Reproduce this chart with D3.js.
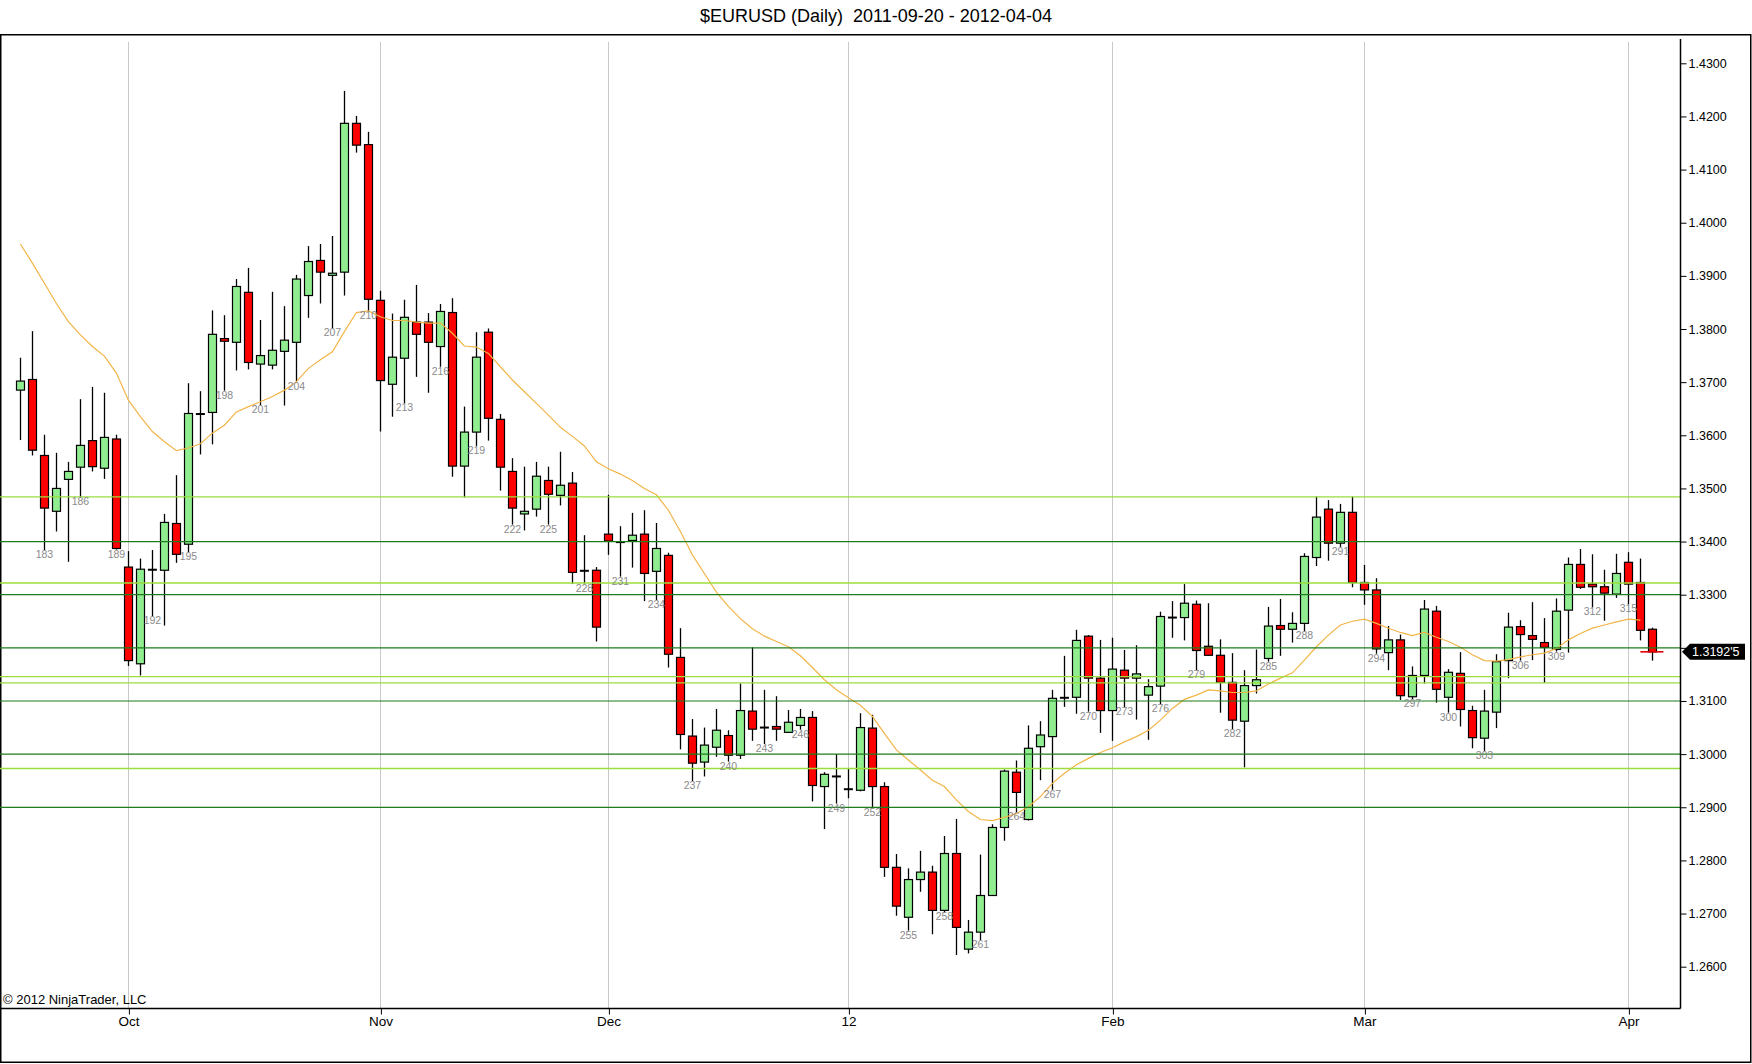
<!DOCTYPE html>
<html>
<head>
<meta charset="utf-8">
<script src="https://cdn.jsdelivr.net/npm/d3@7"></script>
<style>
body{margin:0;background:#fff;}
svg{display:block;font-family:"Liberation Sans",Arial,sans-serif;}
</style>
</head>
<body>
<svg id="chart" width="1752" height="1064"></svg>
<script>
// daily bars, numbered the way the platform numbers them
var firstBar = 181;
var opens = [1.3685,1.3705,1.3562,1.3457,1.3517,1.3540,1.3590,1.3538,1.3593,1.3352,1.3170,1.3347,1.3346,1.3434,1.3395,1.3640,1.3643,1.3782,1.3775,1.3869,
    1.3734,1.3732,1.3758,1.3775,1.3863,1.3929,1.3901,1.3907,1.4187,1.4147,1.3854,1.3696,1.3745,1.3813,1.3813,1.3767,1.3831,1.3542,1.3606,1.3794,
    1.3630,1.3532,1.3452,1.3461,1.3515,1.3487,1.3510,1.3345,1.3346,1.3414,1.3399,1.3402,1.3414,1.3344,1.3374,1.3182,1.3034,1.2985,1.3013,1.3035,
    1.2998,1.3081,1.3050,1.3052,1.3041,1.3054,1.3069,1.2939,1.2958,1.2934,1.2932,1.3049,1.2939,1.2787,1.2693,1.2764,1.2778,1.2706,1.2813,1.2633,
    1.2665,1.2734,1.2862,1.2966,1.2877,1.3014,1.3033,1.3106,1.3107,1.3222,1.3143,1.3082,1.3158,1.3143,1.3111,1.3128,1.3257,1.3257,1.3282,1.3203,
    1.3186,1.3135,1.3062,1.3129,1.3180,1.3242,1.3235,1.3246,1.3370,1.3461,1.3397,1.3455,1.3323,1.3309,1.3191,1.3215,1.3108,1.3148,1.3269,1.3107,
    1.3152,1.3082,1.3030,1.3079,1.3176,1.3240,1.3223,1.3210,1.3197,1.3271,1.3357,1.3320,1.3315,1.3301,1.3361,1.3323,1.3235];
var highs = [1.3746,1.3796,1.3601,1.3567,1.3550,1.3668,1.3691,1.3680,1.3601,1.3382,1.3368,1.3384,1.3452,1.3525,1.3698,1.3683,1.3835,1.3826,1.3894,1.3915,
    1.3817,1.3870,1.3843,1.3902,1.3956,1.3960,1.3975,1.4248,1.4201,1.4171,1.3872,1.3829,1.3855,1.3883,1.3830,1.3847,1.3858,1.3654,1.3794,1.3801,
    1.3640,1.3557,1.3541,1.3550,1.3541,1.3569,1.3531,1.3412,1.3352,1.3488,1.3429,1.3454,1.3459,1.3435,1.3379,1.3237,1.3066,1.3050,1.3085,1.3045,
    1.3133,1.3201,1.3121,1.3109,1.3083,1.3085,1.3081,1.2966,1.3000,1.2973,1.3077,1.3074,1.2947,1.2812,1.2785,1.2818,1.2790,1.2846,1.2878,1.2688,
    1.2811,1.2868,1.2971,1.2988,1.3054,1.3062,1.3121,1.3185,1.3234,1.3224,1.3215,1.3219,1.3196,1.3205,1.3141,1.3268,1.3288,1.3320,1.3289,1.3284,
    1.3216,1.3190,1.3158,1.3197,1.3277,1.3292,1.3267,1.3378,1.3485,1.3478,1.3471,1.3485,1.3356,1.3331,1.3241,1.3225,1.3165,1.3290,1.3279,1.3160,
    1.3192,1.3091,1.3121,1.3188,1.3266,1.3252,1.3286,1.3256,1.3293,1.3370,1.3386,1.3376,1.3347,1.3377,1.3380,1.3368,1.3238];
var lows = [1.3591,1.3562,1.3384,1.3419,1.3362,1.3484,1.3532,1.3518,1.3385,1.3166,1.3148,1.3259,1.3242,1.3360,1.3380,1.3564,1.3583,1.3684,1.3722,1.3724,
    1.3657,1.3724,1.3656,1.3701,1.3821,1.3848,1.3801,1.3863,1.4132,1.3833,1.3607,1.3635,1.3660,1.3710,1.3680,1.3729,1.3522,1.3483,1.3580,1.3590,
    1.3496,1.3432,1.3421,1.3447,1.3432,1.3468,1.3320,1.3321,1.3212,1.3375,1.3334,1.3351,1.3288,1.3290,1.3163,1.3009,1.2949,1.2958,1.2995,1.2986,
    1.2991,1.3025,1.3019,1.3025,1.3040,1.3046,1.2911,1.2859,1.2907,1.2917,1.2930,1.2899,1.2769,1.2696,1.2668,1.2741,1.2661,1.2702,1.2622,1.2625,
    1.2650,1.2733,1.2837,1.2891,1.2875,1.2951,1.2933,1.3089,1.3076,1.3080,1.3040,1.3025,1.3088,1.3065,1.3027,1.3094,1.3219,1.3214,1.3158,1.3185,
    1.3078,1.3047,1.2975,1.3114,1.3174,1.3185,1.3210,1.3231,1.3354,1.3364,1.3390,1.3314,1.3281,1.3189,1.3158,1.3102,1.3103,1.3133,1.3097,1.3078,
    1.3052,1.3011,1.3006,1.3049,1.3143,1.3176,1.3177,1.3134,1.3193,1.3191,1.3311,1.3276,1.3251,1.3294,1.3282,1.3214,1.3176];
var closes = [1.3702,1.3572,1.3463,1.3500,1.3532,1.3581,1.3541,1.3596,1.3387,1.3176,1.3348,1.3347,1.3436,1.3376,1.3641,1.3640,1.3790,1.3777,1.3880,1.3737,
    1.3750,1.3760,1.3779,1.3894,1.3927,1.3907,1.3905,1.4187,1.4146,1.3856,1.3703,1.3747,1.3822,1.3790,1.3775,1.3833,1.3542,1.3606,1.3747,1.3632,
    1.3540,1.3463,1.3457,1.3523,1.3489,1.3506,1.3342,1.3345,1.3239,1.3401,1.3399,1.3412,1.3340,1.3387,1.3188,1.3037,1.2983,1.3017,1.3045,1.2998,
    1.3082,1.3047,1.3050,1.3047,1.3060,1.3069,1.2941,1.2962,1.2958,1.2934,1.3050,1.2939,1.2787,1.2714,1.2764,1.2778,1.2706,1.2813,1.2674,1.2665,
    1.2734,1.2862,1.2968,1.2928,1.3011,1.3036,1.3105,1.3106,1.3214,1.3143,1.3082,1.3160,1.3143,1.3151,1.3127,1.3259,1.3257,1.3284,1.3195,1.3186,
    1.3135,1.3064,1.3129,1.3140,1.3241,1.3235,1.3246,1.3372,1.3446,1.3397,1.3455,1.3323,1.3309,1.3198,1.3215,1.3110,1.3148,1.3273,1.3122,1.3154,
    1.3084,1.3031,1.3081,1.3174,1.3239,1.3225,1.3216,1.3201,1.3269,1.3357,1.3314,1.3315,1.3303,1.3340,1.3320,1.3233,1.31925];
// moving average, bars 181..316
var movingAverage = [1.3960,1.3924,1.3886,1.3848,1.3814,1.3789,1.3767,1.3749,1.3717,1.3666,1.3635,1.3607,1.3588,1.3571,1.3576,1.3584,1.3604,1.3619,1.3644,1.3654,
    1.3663,1.3673,1.3685,1.3701,1.3726,1.3742,1.3757,1.3795,1.3831,1.3834,1.3823,1.3816,1.3816,1.3813,1.3811,1.3811,1.3792,1.3768,1.3766,1.3754,
    1.3729,1.3704,1.3682,1.3660,1.3638,1.3615,1.3598,1.3580,1.3550,1.3537,1.3527,1.3515,1.3500,1.3488,1.3459,1.3419,1.3375,1.3340,1.3305,1.3278,
    1.3255,1.3236,1.3222,1.3212,1.3202,1.3185,1.3163,1.3140,1.3121,1.3106,1.3092,1.3071,1.3039,1.3008,1.2989,1.2970,1.2951,1.2939,1.2914,1.2892,
    1.2877,1.2875,1.2881,1.2888,1.2901,1.2920,1.2945,1.2964,1.2980,1.2992,1.3003,1.3012,1.3023,1.3033,1.3045,1.3064,1.3086,1.3103,1.3111,1.3121,
    1.3119,1.3116,1.3116,1.3119,1.3132,1.3143,1.3153,1.3177,1.3202,1.3224,1.3243,1.3250,1.3254,1.3246,1.3237,1.3229,1.3223,1.3229,1.3220,1.3212,
    1.3201,1.3187,1.3176,1.3175,1.3178,1.3183,1.3187,1.3190,1.3199,1.3215,1.3227,1.3237,1.3243,1.3249,1.3254,1.3252];

var roundLevels = [1.3400, 1.3300, 1.3200, 1.3100, 1.3000, 1.2900];
var drawnLevels = [1.3484, 1.3322, 1.3146, 1.3134, 1.2973];

var monthBars = [190, 211, 230, 250, 272, 293, 315];
var monthLabels = ["Oct", "Nov", "Dec", "12", "Feb", "Mar", "Apr"];
var priceTicks = [1.26,1.27,1.28,1.29,1.30,1.31,1.32,1.33,1.34,1.35,1.36,1.37,1.38,1.39,1.40,1.41,1.42,1.43];
var lastPriceText = "1.3192'5";

var chartTitle = "$EURUSD (Daily)  2011-09-20 - 2012-04-04";
var copyrightText = "\u00a9 2012 NinjaTrader, LLC";

function buildBars(){
    var bars = [];
    for (var i = 0; i < opens.length; i++){
        bars.push({"n": firstBar + i, "o": opens[i], "h": highs[i], "l": lows[i], "c": closes[i]});
    }
    return bars;
}

function drawChart(){
    var svg = d3.select("#chart");
    var plotLeft = 0, plotRight = 1680, plotTop = 40, plotBottom = 1008;

    var x = d3.scaleLinear().domain([179.3, 319.3]).range([plotLeft, plotRight]);
    var y = d3.scaleLinear().domain([1.26, 1.43]).range([966.7, 63.3]);
    var crisp = function(v){ return Math.round(v) + 0.5; };
    var bars = buildBars();
    var last = bars[bars.length - 1];

    // outer frame
    svg.append("rect").attr("x", 0.75).attr("y", 34.75).attr("width", 1750).attr("height", 1027.5)
        .attr("fill", "none").attr("stroke", "#000").attr("stroke-width", 1.5);

    svg.append("text").attr("x", 876).attr("y", 22).attr("text-anchor", "middle")
        .style("white-space", "pre")
        .attr("font-size", "18px").attr("fill", "#000").text(chartTitle);

    // month grid
    svg.append("g").selectAll("line").data(monthBars).enter().append("line")
        .attr("x1", function(d){ return crisp(x(d)); }).attr("x2", function(d){ return crisp(x(d)); })
        .attr("y1", 42).attr("y2", plotBottom)
        .attr("stroke", "#c8c8c8").attr("stroke-width", 1);

    // candles
    var candles = svg.append("g");
    candles.selectAll("line.wick").data(bars).enter().append("line").classed("wick", true)
        .attr("x1", function(d){ return crisp(x(d.n)); }).attr("x2", function(d){ return crisp(x(d.n)); })
        .attr("y1", function(d){ return y(d.h); }).attr("y2", function(d){ return y(d.l); })
        .attr("stroke", "#000").attr("stroke-width", 1.3);

    var bodies = bars.filter(function(d){ return d.o != d.c; });
    candles.selectAll("rect.body").data(bodies).enter().append("rect").classed("body", true)
        .attr("x", function(d){ return Math.round(x(d.n)) - 3.5; })
        .attr("width", 8)
        .attr("y", function(d){ return y(Math.max(d.o, d.c)); })
        .attr("height", function(d){ return Math.max(1, Math.abs(y(d.o) - y(d.c))); })
        .attr("fill", function(d){ return d.c > d.o ? "#90ee90" : "#ff0000"; })
        .attr("stroke", "#000").attr("stroke-width", 1.2);

    var dojis = bars.filter(function(d){ return d.o == d.c; });
    candles.selectAll("line.doji").data(dojis).enter().append("line").classed("doji", true)
        .attr("x1", function(d){ return x(d.n) - 4.5; }).attr("x2", function(d){ return x(d.n) + 4.5; })
        .attr("y1", function(d){ return y(d.c); }).attr("y2", function(d){ return y(d.c); })
        .attr("stroke", "#000").attr("stroke-width", 2);

    // moving average
    var maLine = d3.line()
        .x(function(d, i){ return x(firstBar + i); })
        .y(function(d){ return y(d); });
    svg.append("path").datum(movingAverage).attr("d", maLine)
        .attr("fill", "none").attr("stroke", "#f2b548").attr("stroke-width", 1.2);

    // horizontal levels
    svg.append("g").selectAll("line").data(roundLevels).enter().append("line")
        .attr("x1", plotLeft).attr("x2", plotRight)
        .attr("y1", function(d){ return y(d); }).attr("y2", function(d){ return y(d); })
        .attr("stroke", "#1d7d1d").attr("stroke-width", 1.2);
    svg.append("g").selectAll("line").data(drawnLevels).enter().append("line")
        .attr("x1", plotLeft).attr("x2", plotRight)
        .attr("y1", function(d){ return y(d); }).attr("y2", function(d){ return y(d); })
        .attr("stroke", "#9bdc3e").attr("stroke-width", 1.3);

    // bar numbers every third bar, under the low
    var numbered = bars.filter(function(d){ return d.n % 3 == 0; });
    svg.append("g").selectAll("text").data(numbered).enter().append("text")
        .attr("x", function(d){ return x(d.n); })
        .attr("y", function(d){ return y(d.l) + 8; })
        .attr("text-anchor", "middle").attr("font-size", "10.5px").attr("fill", "#8a8a8a")
        .text(function(d){ return d.n; });

    // last close marker
    svg.append("line")
        .attr("x1", x(last.n) - 12).attr("x2", x(last.n) + 11)
        .attr("y1", y(last.c)).attr("y2", y(last.c))
        .attr("stroke", "#e00000").attr("stroke-width", 1.6);

    // axes lines
    svg.append("line").attr("x1", plotRight + 0.5).attr("x2", plotRight + 0.5).attr("y1", 39).attr("y2", plotBottom + 0.5)
        .attr("stroke", "#000").attr("stroke-width", 1.5);
    svg.append("line").attr("x1", 0).attr("x2", plotRight + 0.5).attr("y1", plotBottom + 0.5).attr("y2", plotBottom + 0.5)
        .attr("stroke", "#000").attr("stroke-width", 1.5);

    // the price tag sits over the tick label it covers, so that label is not drawn
    var tagY = y(last.c);
    var yAxis = d3.axisRight(y).tickValues(priceTicks).tickSize(6).tickPadding(2)
        .tickFormat(function(d){ return Math.abs(y(d) - tagY) < 12 ? "" : d.toFixed(4); });
    var yAxisGroup = svg.append("g").attr("transform", "translate(" + (plotRight + 0.5) + ",0)").call(yAxis);
    yAxisGroup.select(".domain").remove();
    yAxisGroup.selectAll("text").attr("font-size", "12.5px").attr("font-family", "Liberation Sans, Arial, sans-serif").attr("fill", "#000");

    var xAxis = d3.axisBottom(x).tickValues(monthBars).tickSize(6).tickPadding(2)
        .tickFormat(function(d, i){ return monthLabels[i]; });
    var xAxisGroup = svg.append("g").attr("transform", "translate(0," + (plotBottom + 0.5) + ")").call(xAxis);
    xAxisGroup.select(".domain").remove();
    xAxisGroup.selectAll("line").attr("transform", "translate(0.5,0)");
    xAxisGroup.selectAll("text").attr("font-size", "13.5px").attr("font-family", "Liberation Sans, Arial, sans-serif").attr("fill", "#000");

    // price tag for the last close
    var tagPoints = [[plotRight + 2, tagY], [plotRight + 10, tagY - 8], [plotRight + 65, tagY - 8], [plotRight + 65, tagY + 8], [plotRight + 10, tagY + 8]];
    svg.append("polygon").attr("points", tagPoints.map(function(p){ return p.join(","); }).join(" "))
        .attr("fill", "#000");
    svg.append("text").attr("x", plotRight + 12).attr("y", tagY + 4.5)
        .attr("font-size", "12.5px").attr("fill", "#fff").text(lastPriceText);

    svg.append("text").attr("x", 3).attr("y", 1003.5)
        .attr("font-size", "13px").attr("fill", "#000").text(copyrightText);
}

drawChart();
</script>
</body>
</html>
